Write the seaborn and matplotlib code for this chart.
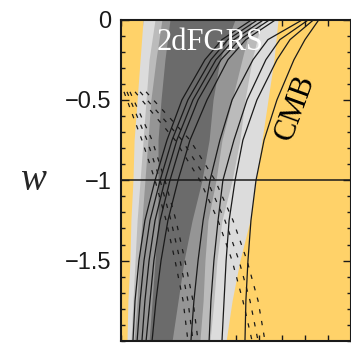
import numpy as np
import pandas as pd
import matplotlib
matplotlib.use("Agg")
import matplotlib.pyplot as plt
from matplotlib.ticker import MultipleLocator
import seaborn as sns

# 2dFGRS band edges (omega_m) read at these w values, outer left -> outer right
band_w = [0, -0.25, -0.5, -0.75, -1, -1.25, -1.5, -1.75, -2]
light_left = [.096, .083, .070, .057, .052, .043, .039, .030, .026]
mid_left = [.148, .122, .109, .096, .083, .070, .061, .052, .043]
grey_left = [.178, .152, .130, .117, .104, .091, .078, .070, .057]
dark_left = [.213, .191, .174, .161, .161, .161, .148, .135, .122]
dark_right = [.496, .430, .400, .383, .352, .309, .274, .248, .222]
grey_right = [.570, .526, .483, .439, .413, .378, .365, .357, .343]
mid_right = [.613, .570, .539, .517, .483, .439, .417, .404, .387]
light_right = [.683, .665, .639, .613, .587, .561, .517, .483, .457]

# solid contour lines (omega_m at each w in line_w)
line_w = [0, -0.125, -0.25, -0.5, -0.75, -1, -1.25, -1.5, -1.75, -2]
solid_a1 = [.570, .439, .365, .265, .200, .148, .104, .078, .061, .052]
solid_a2 = [.596, .465, .391, .291, .222, .170, .126, .100, .083, .070]
solid_a3 = [.622, .491, .413, .313, .243, .191, .148, .122, .104, .091]
solid_a4 = [.648, .517, .435, .335, .265, .213, .170, .143, .126, .109]
solid_a5 = [.674, .543, .465, .374, .300, .248, .204, .174, .152, .135]
solid_b1 = [.791, .639, .574, .483, .430, .387, .357, .335, .317, .304]
solid_b2 = [.817, .691, .630, .548, .491, .443, .422, .404, .391, .383]
solid_b3 = [.839, .735, .678, .591, .530, .496, .470, .457, .448, .439]
solid_b4 = [.861, .800, .752, .678, .622, .587, .565, .552, .543, .539]

# dashed contour lines
dash_w = [-0.45, -0.75, -1, -1.25, -1.5, -1.75, -2]
dashed_1 = [.013, .091, .148, .196, .235, .270, .291]
dashed_2 = [.026, .113, .170, .217, .257, .291, .313]
dashed_3 = [.039, .135, .191, .239, .278, .313, .335]
dashed_4 = [.061, .235, .343, .422, .483, .530, .570]
dashed_5 = [.083, .265, .374, .452, .513, .561, .596]
dashed_6 = [.109, .300, .409, .487, .548, .596, .626]

sns.set_theme(style="ticks")
plt.rcParams['font.family'] = ['Liberation Sans', 'DejaVu Sans']

fig = plt.figure(figsize=(3.51, 3.43), dpi=100)
ax = fig.add_axes([121/351, 2/343, 230/351, 321.5/343])
ax.set_facecolor("#FFD269")

# nested grey bands
shades = ["#DCDCDC", "#BBBBBB", "#959595", "#6B6B6B"]
lefts = [light_left, mid_left, grey_left, dark_left]
rights = [light_right, mid_right, grey_right, dark_right]
for lo, hi, c in zip(lefts, rights, shades):
    ax.fill_betweenx(band_w, lo, hi, color=c, lw=0)

# solid lines
solid = [solid_a1, solid_a2, solid_a3, solid_a4, solid_a5,
         solid_b1, solid_b2, solid_b3, solid_b4]
df_solid = pd.DataFrame({
    "om": np.concatenate(solid),
    "w": np.tile(line_w, len(solid)),
    "curve": np.repeat(np.arange(len(solid)), len(line_w)),
})
sns.lineplot(data=df_solid, x="om", y="w", units="curve", estimator=None,
             sort=False, orient="y", color="k", lw=0.9, ax=ax)

dashed = [dashed_1, dashed_2, dashed_3, dashed_4, dashed_5, dashed_6]
df_dash = pd.DataFrame({
    "om": np.concatenate(dashed),
    "w": np.tile(dash_w, len(dashed)),
    "curve": np.repeat(np.arange(len(dashed)), len(dash_w)),
})
sns.lineplot(data=df_dash, x="om", y="w", units="curve", estimator=None,
             sort=False, orient="y", color="k", lw=0.9,
             linestyle=(0, (3.5, 6)), ax=ax)

ax.axhline(-1, color="k", lw=1.1)

ax.text(0.387, -0.14, "2dFGRS", color="white", family="Liberation Serif",
        fontsize=22, ha="center", va="center")
ax.text(0.76, -0.55, "CMB", color="black", family="Liberation Serif",
        fontsize=22, ha="center", va="center", rotation=70)

ax.set_xlim(0, 1)
ax.set_ylim(-2, 0)
ax.xaxis.set_major_locator(MultipleLocator(0.1))
ax.yaxis.set_major_locator(MultipleLocator(0.5))
ax.yaxis.set_minor_locator(MultipleLocator(0.1))
ax.set_yticks([-1.5, -1, -0.5, 0])
ax.set_yticklabels(["\u22121.5", "\u22121", "\u22120.5", "0"])
ax.tick_params(which="both", direction="in", top=True, right=True,
               bottom=True, left=True, labelbottom=False, color="k")
ax.tick_params(axis="x", length=4.5, width=1)
ax.tick_params(axis="y", which="major", length=5.5, width=1,
               labelsize=17, pad=7, labelcolor="k")
ax.tick_params(axis="y", which="minor", length=3, width=1)

ax.set_xlabel("")
ax.set_ylabel("w", family="Liberation Serif", style="italic", fontsize=28,
              rotation=0, va="center", ha="center")
ax.yaxis.set_label_coords(-0.383, 0.5)
for s in ax.spines.values():
    s.set_color("k")
    s.set_linewidth(1.5)

fig.savefig("out.png", dpi=100)
